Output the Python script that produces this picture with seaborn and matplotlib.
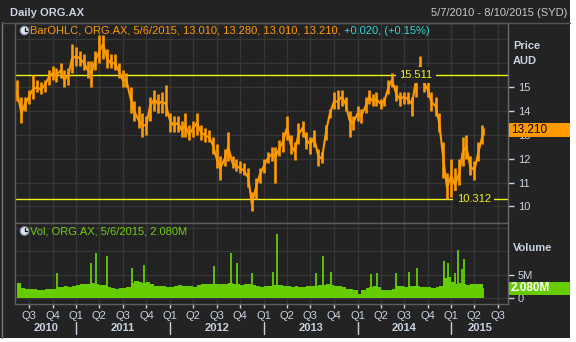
import numpy as np
import pandas as pd
import matplotlib
matplotlib.use("Agg")
import matplotlib.pyplot as plt
import matplotlib.dates as mdates
import seaborn as sns
from matplotlib.patches import Circle, Rectangle
from matplotlib.transforms import blended_transform_factory

# ---------------- data (semi-monthly) ----------------
period_start = "2010-05-15"
period_end = "2015-05-01"
last_day = "2015-05-06"

close = [14.8, 13.9, 14.3, 14.6, 14.9, 15.0, 14.9, 15.1, 15.4, 15.6, 15.5, 15.7, 15.3, 15.5, 16.2,
         16.3, 16.2, 16.0, 15.7, 15.6, 16.1, 16.5, 16.8, 16.2, 16.0, 16.0, 15.7, 15.3, 15.3, 14.5, 14.0, 13.6, 13.4, 13.4, 14.2, 14.5, 14.3, 14.4, 14.3,
         13.6, 13.4, 13.5, 13.2, 13.4, 13.0, 13.3, 13.5, 13.1, 13.0, 12.9, 12.6, 12.0, 11.6, 12.0, 12.5, 11.8, 11.7, 11.6, 11.5, 11.2, 10.1, 10.8, 11.3,
         11.7, 12.0, 12.2, 12.1, 12.4, 12.7, 13.3, 12.6, 12.3, 13.0, 13.3, 12.8, 12.6, 12.9, 12.1, 12.0, 13.2, 13.9, 14.4, 14.4, 14.6, 14.3, 13.6, 13.5,
         13.9, 13.8, 14.2, 14.6, 14.4, 14.5, 14.3, 14.4, 15.0, 15.3, 14.7, 14.5, 14.6, 14.5, 14.3, 15.2, 15.9, 15.2, 14.9, 14.4, 14.2, 13.5, 12.0, 10.8,
         11.3, 10.9, 11.4, 12.3, 12.5, 11.7, 11.5, 12.2, 12.9, 13.21]
low = [14.4, 13.5, 14.0, 14.3, 14.5, 14.8, 14.7, 14.8, 15.1, 15.3, 15.2, 15.4, 15.0, 15.1, 15.6,
       15.9, 15.9, 15.7, 15.4, 15.0, 15.7, 16.0, 16.2, 15.8, 15.8, 15.7, 15.4, 15.0, 15.0, 13.9, 13.6, 13.3, 12.9, 13.0, 13.6, 14.0, 13.9, 13.9, 13.8,
       13.1, 13.1, 13.1, 12.9, 12.9, 12.8, 12.9, 13.0, 12.8, 12.7, 12.7, 12.2, 11.6, 11.1, 11.7, 11.9, 11.6, 11.5, 11.4, 11.3, 10.8, 9.8, 10.3, 11.0,
       11.4, 11.8, 11.9, 11.0, 12.1, 12.3, 12.8, 12.2, 11.95, 12.6, 12.9, 12.4, 12.2, 12.5, 11.7, 11.8, 12.8, 13.7, 14.1, 14.1, 14.2, 14.0, 12.9, 13.2,
       13.6, 13.5, 13.9, 14.3, 14.2, 14.2, 14.1, 14.2, 14.7, 15.0, 14.4, 14.2, 14.3, 14.3, 13.8, 14.6, 15.4, 14.8, 14.6, 14.0, 13.8, 13.1, 11.2, 10.3,
       10.4, 10.4, 10.9, 11.7, 12.0, 11.3, 11.1, 11.9, 12.6, 13.01]
high = [15.3, 14.6, 14.6, 14.9, 15.5, 15.3, 15.2, 15.3, 15.7, 15.9, 15.8, 16.0, 15.7, 15.8, 16.8,
        16.7, 16.5, 16.4, 16.1, 16.1, 16.5, 17.2, 17.2, 16.6, 16.4, 16.4, 16.0, 15.7, 15.6, 15.0, 14.4, 14.2, 13.9, 13.8, 14.6, 14.9, 14.7, 14.8, 15.1,
        13.9, 13.8, 13.8, 13.6, 13.9, 13.4, 13.6, 13.9, 13.4, 13.3, 13.2, 12.9, 12.6, 12.1, 12.4, 13.1, 12.1, 12.0, 11.9, 11.8, 11.6, 10.6, 11.2, 11.6,
        12.0, 12.3, 12.5, 12.5, 12.8, 13.1, 13.8, 13.0, 12.7, 13.5, 13.6, 13.1, 12.9, 13.2, 12.4, 12.3, 13.4, 14.1, 14.8, 14.9, 14.9, 14.6, 14.0, 13.8,
        14.2, 14.1, 14.6, 14.9, 14.7, 14.8, 14.5, 14.6, 15.3, 15.6, 15.1, 14.8, 14.8, 14.8, 14.6, 15.8, 16.3, 15.6, 15.3, 14.8, 14.6, 13.9, 12.7, 11.4,
        12.0, 11.6, 12.0, 12.9, 13.0, 12.1, 11.9, 12.7, 13.4, 13.28]

volume_m = [3.3, 2.2, 2.0, 2.0, 1.9, 1.8, 1.8, 1.9, 1.9, 2.0, 2.3, 2.4, 2.5, 2.4, 2.6,
            2.8, 3.0, 2.9, 3.1, 3.2, 2.9, 2.8, 2.7, 2.4, 2.1, 2.0, 2.1, 2.2, 2.3, 3.2, 3.6, 3.5, 3.3, 3.4, 3.0, 2.6, 2.5, 2.5, 2.3,
            2.3, 2.5, 2.7, 2.6, 2.6, 2.5, 2.4, 2.8, 3.0, 2.9, 3.1, 3.0, 3.0, 2.9, 3.0, 3.2, 3.1, 3.0, 2.8, 2.9, 3.0, 2.7, 2.5, 2.3,
            2.5, 2.6, 2.8, 2.7, 2.8, 2.6, 2.5, 2.4, 2.5, 2.4, 2.4, 2.5, 2.6, 2.5, 2.7, 2.8, 2.9, 2.8, 2.6, 2.5, 2.3, 2.0, 1.9, 1.7,
            0.9, 1.6, 2.2, 2.4, 2.5, 2.4, 1.7, 1.6, 1.6, 1.9, 2.5, 2.5, 2.4, 2.6, 2.6, 2.5, 2.4, 2.3, 2.3, 2.2, 2.3, 2.6, 4.3, 4.5,
            3.5, 3.0, 3.2, 3.0, 2.8, 2.9, 3.0, 3.1, 3.0, 2.08]

spike_dates = ["2010-10-19", "2011-02-28", "2011-03-20", "2011-05-02", "2011-08-07", "2011-09-23",
               "2012-06-21", "2012-08-27", "2012-09-19", "2012-11-17", "2013-02-06", "2013-02-22",
               "2013-07-24", "2013-08-20", "2013-09-20", "2014-02-23", "2014-03-19", "2014-06-01",
               "2014-07-21", "2014-08-22", "2014-12-05", "2014-12-20", "2015-01-17", "2015-01-28",
               "2015-02-13", "2015-02-21"]
spike_vol_m = [5.3, 7.5, 9.6, 8.9, 6.4, 7.0,
               6.9, 9.6, 7.4, 5.3, 5.6, 13.75,
               5.4, 8.9, 5.6, 5.2, 5.4, 5.3,
               5.6, 6.5, 8.0, 7.4, 5.4, 10.4,
               6.3, 8.3]

level_hi = 15.511
level_lo = 10.312
last_close = 13.210
last_vol_m = 2.080

quarter_labels = ["Q3", "Q4"] + ["Q1", "Q2", "Q3", "Q4"] * 4 + ["Q1", "Q2", "Q3"]
year_labels = ["2010", "2011", "2012", "2013", "2014", "2015"]

# ---------------- style ----------------
BG = "#232323"
PANEL = "#222222"
GRID = "#363636"
BORDER = "#5e5e5e"
TXT = "#c8d2e0"
ORANGE = "#ff9a00"
GREEN = "#66cc00"
YELLOW = "#f2f21a"

sns.set_style("dark", {"axes.facecolor": PANEL, "figure.facecolor": BG})
plt.rcParams['font.family'] = ['Liberation Sans', 'DejaVu Sans']
plt.rcParams['font.size'] = 8

W, H = 576, 342
fig = plt.figure(figsize=(W / 100, H / 100), dpi=100)
fig.patch.set_facecolor(BG)

def frac(x0, y0, x1, y1):
    return [x0 / W, 1 - y1 / H, (x1 - x0) / W, (y1 - y0) / H]

ax_p = fig.add_axes(frac(15, 23, 508, 222.5))
ax_v = fig.add_axes(frac(15, 222.5, 508, 304), sharex=ax_p)

dates = list(pd.date_range(period_start, period_end, freq="SMS")) + [pd.Timestamp(last_day)]
df = pd.DataFrame({"date": dates, "close": close, "low": low, "high": high, "vol": volume_m})

# price
ax_p.vlines(df["date"], df["low"], df["high"], color=ORANGE, lw=1.9, zorder=3)
sns.lineplot(data=df, x="date", y="close", ax=ax_p, color=ORANGE, lw=1.5, zorder=3)
ax_p.axhline(level_hi, color=YELLOW, lw=1, zorder=2)
ax_p.axhline(level_lo, color=YELLOW, lw=1, zorder=2)
bt = blended_transform_factory(ax_p.transAxes, ax_p.transData)
for lvl, xf in [(level_hi, 0.813), (level_lo, 0.931)]:
    ax_p.text(xf, lvl, f"{lvl:.3f}", transform=bt, ha="center", va="center", color=YELLOW,
              fontsize=8, zorder=4, bbox=dict(facecolor=PANEL, edgecolor="none", pad=2.5))

# volume
edges = list(df["date"]) + [pd.Timestamp(last_day) + pd.Timedelta(days=1)]
widths = [(edges[i + 1] - edges[i]).days for i in range(len(df))]
ax_v.bar(df["date"], df["vol"], width=widths, align="edge", color=GREEN, lw=0, zorder=3)
ax_v.vlines(pd.to_datetime(spike_dates), 0, spike_vol_m, color=GREEN, lw=1.3, zorder=3)

# axes limits / ticks
xmin, xmax = pd.Timestamp("2010-05-07"), pd.Timestamp("2015-08-10")
ax_p.set_xlim(xmin, xmax)
ax_p.set_ylim(9.325, 17.69)
ax_v.set_ylim(-1.3, 16.2)

qticks = pd.date_range("2010-07-01", "2015-07-01", freq="QS")
for ax in (ax_p, ax_v):
    ax.set_facecolor(PANEL)
    ax.set_xticks(qticks)
    ax.grid(True, color=GRID, lw=1)
    ax.set_xlabel("")
    ax.set_ylabel("")
    ax.yaxis.tick_right()
    ax.tick_params(axis="y", direction="out", length=4, width=1, color=TXT, labelcolor=TXT,
                   labelsize=8, pad=3, right=True, left=False)
    for s in ax.spines.values():
        s.set_color(BORDER)
        s.set_linewidth(1)
    ax.spines["right"].set_color("#6a6a6a")

ax_p.set_yticks(range(10, 18))
ax_p.set_yticklabels([str(v) if v <= 15 else "" for v in range(10, 18)])
ax_p.tick_params(axis="x", bottom=False, labelbottom=False)
for t in ax_p.yaxis.get_major_ticks():
    if float(t.get_loc()) > 15:
        t.tick2line.set_visible(False)
ax_v.set_yticks([0, 5, 10, 15])
ax_v.set_yticklabels(["0", "5M", "", ""])
for t in ax_v.yaxis.get_major_ticks():
    if float(t.get_loc()) > 5:
        t.tick2line.set_visible(False)
ax_v.set_xticklabels(quarter_labels)
ax_v.tick_params(axis="x", direction="out", length=3, width=1, color=TXT, labelcolor=TXT,
                 labelsize=8, pad=2, bottom=True)

# last value markers
ax_p.add_patch(Rectangle((1.002, last_close - 0.28), 0.128, 0.56, transform=bt, facecolor=ORANGE,
                         edgecolor="none", clip_on=False, zorder=10))
ax_p.text(1.006, last_close, f"{last_close:.3f}", transform=bt, va="center", ha="left",
          color="black", fontsize=8.5, zorder=11, clip_on=False)
bv = blended_transform_factory(ax_v.transAxes, ax_v.transData)
ax_v.add_patch(Rectangle((1.002, last_vol_m - 1.45), 0.14, 2.9, transform=bv, facecolor=GREEN,
                         edgecolor="none", clip_on=False, zorder=10))
ax_v.text(1.006, last_vol_m, f"{last_vol_m:.3f}M", transform=bv, va="center", ha="left",
          color="white", fontsize=8.5, fontweight="bold", zorder=11, clip_on=False)

# ---------------- overlay decorations (pixel coords) ----------------
ov = fig.add_axes([0, 0, 1, 1], zorder=20)
ov.set_xlim(0, W)
ov.set_ylim(H, 0)
ov.axis("off")

ov.add_patch(Rectangle((0, 338), W, 4, facecolor="white", edgecolor="none"))
ov.add_patch(Rectangle((570, 0), 6, H, facecolor="white", edgecolor="none"))
ov.plot([1.5, 1.5], [22, 338], color="#777777", lw=1)
ov.plot([1.5, 570], [22.5, 22.5], color="#555555", lw=1)

ov.text(10, 13, "Daily ORG.AX", color=TXT, fontsize=8, fontweight="bold", va="center", ha="left")
ov.text(567, 13, "5/7/2010 - 8/10/2015 (SYD)", color="#c8c8c8", fontsize=8, va="center", ha="right")

def clock(cx, cy):
    ov.add_patch(Circle((cx, cy), 4.3, facecolor="#dfe6ef", edgecolor="#7f8fa0", lw=0.8))
    ov.plot([cx, cx], [cy, cy - 3], color="#111111", lw=0.9)
    ov.plot([cx, cx + 2.6], [cy, cy], color="#111111", lw=0.9)

clock(24.5, 30.5)
t1 = ov.text(30, 30.5, "BarOHLC, ORG.AX, 5/6/2015, 13.010, 13.280, 13.010, 13.210, ", color=ORANGE,
             fontsize=8, va="center", ha="left")
fig.canvas.draw()
bb = t1.get_window_extent(fig.canvas.get_renderer())
ov.text(bb.x1, 30.5, "+0.020, (+0.15%)", color="#33d6d6", fontsize=8, va="center", ha="left")

clock(24.5, 231)
ov.text(30, 231, "Vol, ORG.AX, 5/6/2015, 2.080M", color="#72cc10", fontsize=8, va="center", ha="left")

ov.text(513, 46, "Price", color=TXT, fontsize=8, fontweight="bold", va="center", ha="left")
ov.text(513, 61, "AUD", color=TXT, fontsize=8, fontweight="bold", va="center", ha="left")
ov.text(513, 248, "Volume", color=TXT, fontsize=8, fontweight="bold", va="center", ha="left")

# year labels & separators
def xpix(d):
    return 15 + (mdates.date2num(pd.Timestamp(d)) - mdates.date2num(xmin)) / \
        (mdates.date2num(xmax) - mdates.date2num(xmin)) * 493

bounds = [xmin] + [pd.Timestamp(f"{y}-01-01") for y in range(2011, 2016)] + [xmax]
for i, lab in enumerate(year_labels):
    x0, x1 = xpix(bounds[i]), xpix(bounds[i + 1])
    ov.text((x0 + x1) / 2, 328, lab, color=TXT, fontsize=8, fontweight="bold", ha="center", va="center")
for y in range(2011, 2016):
    xp = xpix(f"{y}-01-01")
    ov.plot([xp, xp], [322, 334], color=TXT, lw=1)

fig.savefig("out.png", dpi=100, facecolor=fig.get_facecolor())
